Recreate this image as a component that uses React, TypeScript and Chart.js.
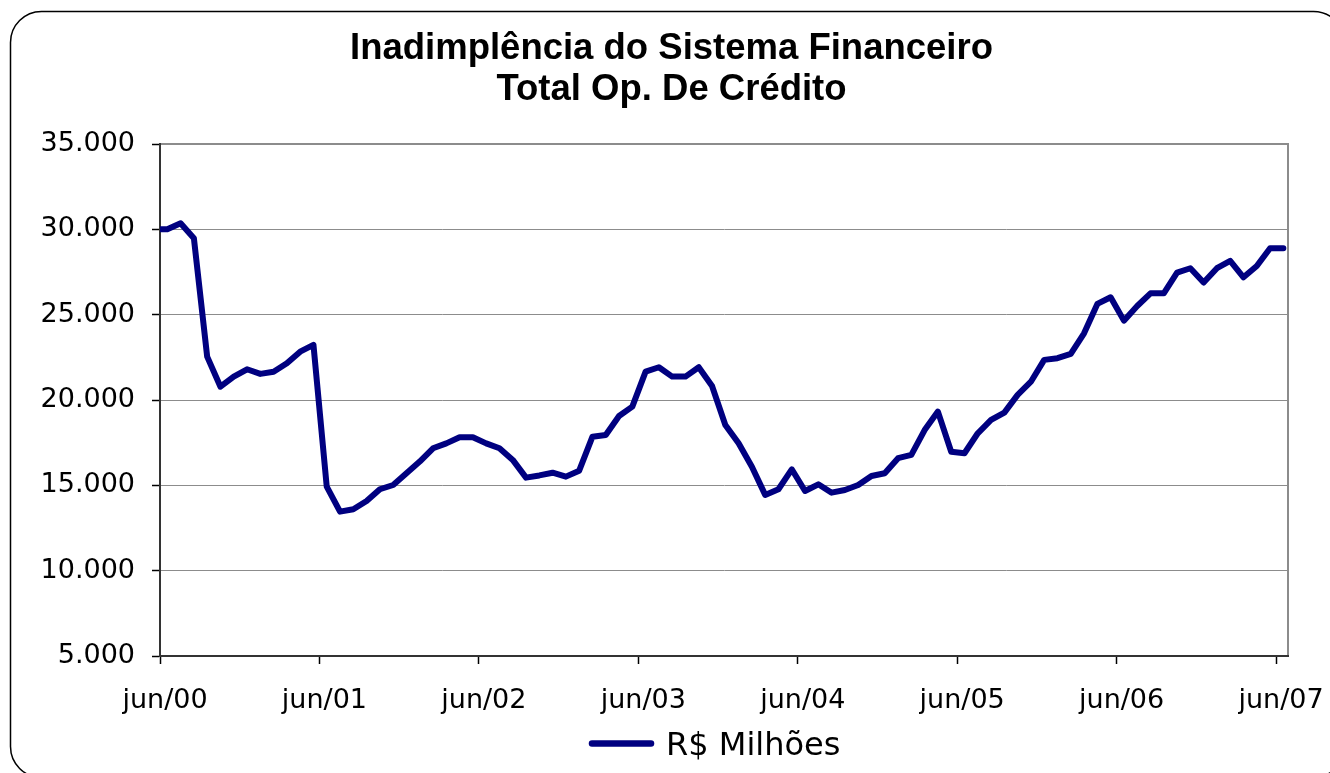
import React, { useEffect, useRef } from 'react';
import { Chart, registerables } from 'chart.js';

Chart.register(...registerables);

const TITLE_LINES = ['Inadimplência do Sistema Financeiro', 'Total Op. De Crédito'];
const SERIES_LABEL = 'R$ Milhões';

// Monthly values (R$ milhões), first point just before jun/00
const SERIES_VALUES = [
  30000, 30000, 30350, 29480, 22540, 20780, 21370, 21800, 21530, 21660,
  22150, 22830, 23230, 14920, 13460, 13600, 14080, 14770, 15020, 15710,
  16390, 17170, 17460, 17820, 17820, 17460, 17170, 16490, 15450, 15580,
  15740, 15510, 15860, 17850, 17950, 19060, 19610, 21660, 21920, 21370,
  21370, 21920, 20820, 18540, 17460, 16090, 14440, 14770, 15940, 14670,
  15060, 14570, 14730, 15020, 15550, 15710, 16590, 16780, 18240, 19320,
  16970, 16880, 18050, 18830, 19260, 20300, 21070, 22350, 22450, 22700,
  23910, 25630, 26020, 24650, 25510, 26250, 26250, 27460, 27720, 26880,
  27720, 28150, 27190, 27850, 28890, 28890,
];
// month position of the first value, relative to the jun/00 tick
const FIRST_POINT_MONTH = -0.45;

const X_TICK_MONTHS = [0, 12, 24, 36, 48, 60, 72, 84];
const X_TICK_LABELS = ['jun/00', 'jun/01', 'jun/02', 'jun/03', 'jun/04', 'jun/05', 'jun/06', 'jun/07'];
const X_MAX_MONTH = 84.9;

const Y_TICKS = [5000, 10000, 15000, 20000, 25000, 30000, 35000];

const formatThousands = (v: number) =>
  String(Math.round(v)).replace(/\B(?=(\d{3})+(?!\d))/g, '.');

const framePlugin = {
  id: 'frame',
  beforeDraw(chart: any) {
    const { ctx, chartArea: a } = chart;
    ctx.save();
    ctx.fillStyle = '#ffffff';
    ctx.fillRect(0, 0, chart.width, chart.height);
    ctx.strokeStyle = '#000000';
    ctx.lineWidth = 1.5;
    ctx.beginPath();
    ctx.roundRect(10.5, 11.5, 1334, 766, 31);
    ctx.stroke();
    ctx.strokeStyle = '#8c8c8c';
    ctx.lineWidth = 2;
    ctx.beginPath();
    ctx.moveTo(a.left, a.top);
    ctx.lineTo(a.right, a.top);
    ctx.lineTo(a.right, a.bottom);
    ctx.stroke();
    ctx.restore();
  },
};

const legendPlugin = {
  id: 'lineLegend',
  afterDraw(chart: any) {
    const { ctx } = chart;
    const ds = chart.data.datasets[0];
    ctx.save();
    ctx.strokeStyle = ds.borderColor;
    ctx.lineWidth = 6.5;
    ctx.lineCap = 'round';
    ctx.beginPath();
    ctx.moveTo(592, 743.5);
    ctx.lineTo(651, 743.5);
    ctx.stroke();
    ctx.font = '32px "DejaVu Sans"';
    ctx.fillStyle = '#000000';
    ctx.textAlign = 'left';
    ctx.textBaseline = 'alphabetic';
    ctx.fillText(ds.label, 666, 755);
    ctx.restore();
  },
};

export default function App() {
  const canvasRef = useRef<HTMLCanvasElement | null>(null);

  useEffect(() => {
    if (!canvasRef.current) return;
    const points = SERIES_VALUES.map((v, i) => ({ x: FIRST_POINT_MONTH + i, y: v }));
    const tickFont = { family: '"DejaVu Sans"', size: 27 };

    const chart = new Chart(canvasRef.current, {
      type: 'line',
      data: {
        datasets: [
          {
            label: SERIES_LABEL,
            data: points,
            borderColor: '#000080',
            backgroundColor: '#000080',
            borderWidth: 6,
            pointRadius: 0,
            pointHoverRadius: 0,
            tension: 0,
            fill: false,
            borderJoinStyle: 'round',
            borderCapStyle: 'round',
            clip: 0,
          } as any,
        ],
      },
      options: {
        responsive: false,
        maintainAspectRatio: false,
        animation: false,
        devicePixelRatio: 1,
        layout: { padding: { left: 13, right: 0, top: 0, bottom: 0 } },
        plugins: {
          legend: { display: false },
          tooltip: { enabled: false },
          title: {
            display: true,
            text: TITLE_LINES,
            color: '#000000',
            font: { family: '"Liberation Sans", Arial, sans-serif', size: 36.5, weight: 'bold', lineHeight: 1.137 },
            padding: { top: 28, bottom: 33 },
          },
        },
        scales: {
          x: {
            type: 'linear',
            position: 'bottom',
            min: 0,
            max: X_MAX_MONTH,
            afterBuildTicks: (s: any) => {
              s.ticks = X_TICK_MONTHS.map((v) => ({ value: v }));
            },
            afterFit: (s: any) => {
              s.height = 117;
              s.paddingLeft = 0;
              s.paddingRight = 0;
            },
            ticks: {
              autoSkip: false,
              maxRotation: 0,
              minRotation: 0,
              color: '#000000',
              font: tickFont,
              padding: 21,
              labelOffset: 5,
              callback: (v: any) => {
                const i = X_TICK_MONTHS.indexOf(Number(v));
                return i >= 0 ? X_TICK_LABELS[i] : '';
              },
            },
            grid: {
              display: true,
              drawOnChartArea: false,
              drawTicks: true,
              tickLength: 8,
              tickColor: '#000000',
              tickWidth: 1.5,
            },
            border: { display: true, color: '#333333', width: 2 },
          },
          y: {
            type: 'linear',
            position: 'left',
            min: 5000,
            max: 35000,
            afterBuildTicks: (s: any) => {
              s.ticks = Y_TICKS.map((v) => ({ value: v }));
            },
            afterFit: (s: any) => {
              s.width = 147;
              s.paddingTop = 0;
              s.paddingBottom = 0;
            },
            ticks: {
              color: '#000000',
              font: tickFont,
              padding: 17,
              callback: (v: any) => formatThousands(Number(v)),
            },
            grid: {
              color: '#8c8c8c',
              lineWidth: 1,
              drawTicks: true,
              tickLength: 8,
              tickColor: '#000000',
              tickWidth: 1.5,
            },
            border: { display: true, color: '#333333', width: 2 },
          },
          yRight: {
            type: 'linear',
            position: 'right',
            display: true,
            min: 5000,
            max: 35000,
            afterFit: (s: any) => {
              s.width = 42;
              s.paddingTop = 0;
              s.paddingBottom = 0;
            },
            ticks: { display: false },
            grid: { display: false, drawTicks: false },
            border: { display: false },
          },
        },
      } as any,
      plugins: [framePlugin, legendPlugin],
    });

    return () => chart.destroy();
  }, []);

  return (
    <div style={{ position: 'fixed', left: 0, top: 0, width: 1330, height: 773, background: '#ffffff', overflow: 'hidden' }}>
      <canvas ref={canvasRef} width={1330} height={773} style={{ display: 'block' }} />
    </div>
  );
}
